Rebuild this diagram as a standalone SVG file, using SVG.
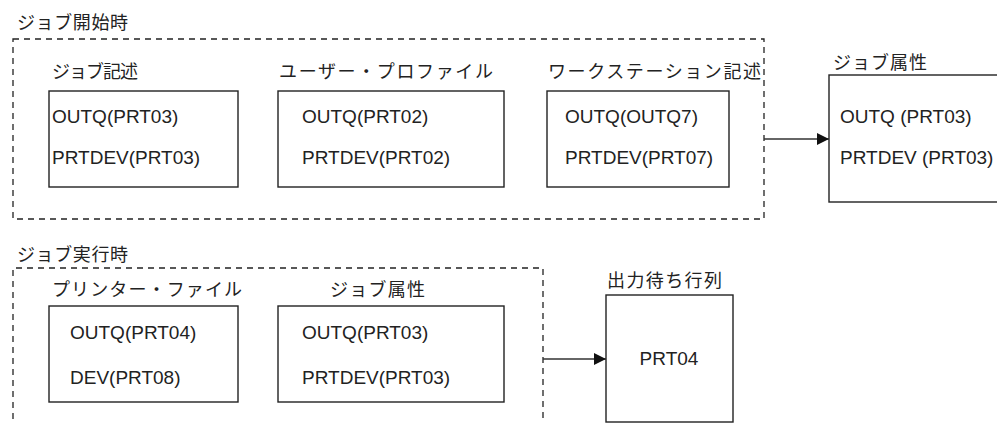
<svg xmlns="http://www.w3.org/2000/svg" width="997" height="423" viewBox="0 0 997 423">
<style>
  .bg{fill:#ffffff}
  .grp{fill:none;stroke:#222;stroke-width:1.3;stroke-dasharray:6 5}
  .box{fill:#ffffff;stroke:#222;stroke-width:1.4}
  .lbl{font-family:"Noto Sans CJK JP","Noto Sans",sans-serif;font-size:18px;fill:#222}
  .txt{font-family:"Liberation Sans",Arial,sans-serif;font-size:19px;fill:#222}
  .conn{fill:none;stroke:#333;stroke-width:1.3;marker-end:url(#arr)}
</style>
<defs>
  <marker id="arr" viewBox="0 0 12 12" refX="12" refY="6" markerWidth="12" markerHeight="12" markerUnits="userSpaceOnUse" orient="auto">
    <path d="M0,0 L12,6 L0,12 Z" fill="#111"/>
  </marker>
</defs>
<rect class="bg" x="0" y="0" width="997" height="423"/>

<g id="group-start">
  <text class="lbl" x="17" y="29" textLength="111">ジョブ開始時</text>
  <rect class="grp" x="13" y="39" width="751" height="180"/>
</g>

<g id="node-jobd">
  <text class="lbl" x="52" y="78" textLength="86">ジョブ記述</text>
  <rect class="box" x="49" y="91" width="189" height="96"/>
  <text class="txt" x="52" y="123">OUTQ(PRT03)</text>
  <text class="txt" x="52" y="164">PRTDEV(PRT03)</text>
</g>

<g id="node-usrprf">
  <text class="lbl" x="279" y="78" textLength="214">ユーザー・プロファイル</text>
  <rect class="box" x="278" y="91" width="226" height="96"/>
  <text class="txt" x="302" y="123">OUTQ(PRT02)</text>
  <text class="txt" x="302" y="164">PRTDEV(PRT02)</text>
</g>

<g id="node-devd">
  <text class="lbl" x="548" y="78" textLength="213">ワークステーション記述</text>
  <rect class="box" x="547" y="91" width="182" height="96"/>
  <text class="txt" x="565" y="123">OUTQ(OUTQ7)</text>
  <text class="txt" x="565" y="164">PRTDEV(PRT07)</text>
</g>

<g id="node-jobattr1">
  <text class="lbl" x="833" y="69" textLength="94">ジョブ属性</text>
  <rect class="box" x="829" y="75" width="200" height="127"/>
  <text class="txt" x="840" y="123">OUTQ (PRT03)</text>
  <text class="txt" x="840" y="164">PRTDEV (PRT03)</text>
</g>

<g id="group-run">
  <text class="lbl" x="17" y="261" textLength="111">ジョブ実行時</text>
  <path class="grp" d="M13,430 V268 H543 V430"/>
</g>

<g id="node-prtf">
  <text class="lbl" x="52" y="296" textLength="190">プリンター・ファイル</text>
  <rect class="box" x="49" y="306" width="189" height="96"/>
  <text class="txt" x="70" y="339">OUTQ(PRT04)</text>
  <text class="txt" x="70" y="384">DEV(PRT08)</text>
</g>

<g id="node-jobattr2">
  <text class="lbl" x="330" y="296" textLength="95">ジョブ属性</text>
  <rect class="box" x="278" y="306" width="226" height="96"/>
  <text class="txt" x="302" y="339">OUTQ(PRT03)</text>
  <text class="txt" x="302" y="384">PRTDEV(PRT03)</text>
</g>

<g id="node-outq">
  <text class="lbl" x="607" y="287" textLength="115">出力待ち行列</text>
  <rect class="box" x="606" y="295" width="127" height="127"/>
  <text class="txt" x="669" y="365" text-anchor="middle">PRT04</text>
</g>

<g id="connectors">
  <line class="conn" x1="764" y1="139" x2="829" y2="139"/>
  <line class="conn" x1="543" y1="359" x2="606" y2="359"/>
</g>
</svg>
